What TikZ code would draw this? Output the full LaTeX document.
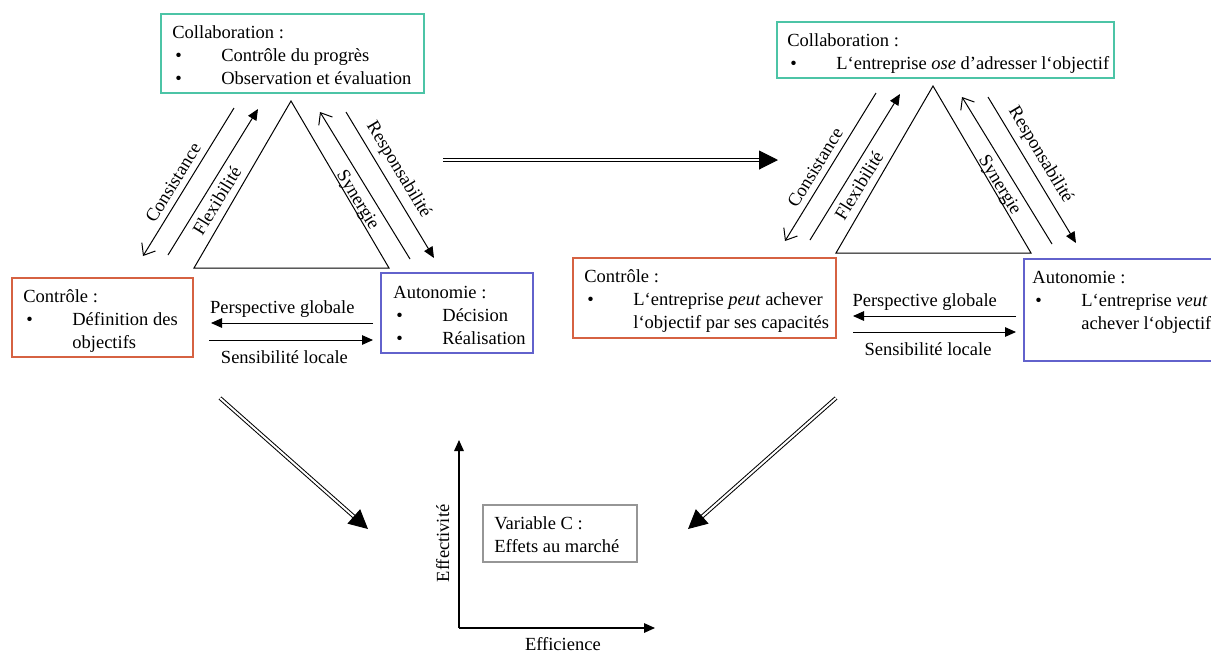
\documentclass[tikz,border=0pt]{standalone}
\usepackage{fontspec}
\setmainfont{Liberation Serif}
\usepackage{tikz}
\usetikzlibrary{arrows.meta, calc, fit}

\definecolor{turquoise}{RGB}{76,196,166}
\definecolor{rouille}{RGB}{214,98,66}
\definecolor{indigo}{RGB}{98,98,204}
\definecolor{grisclair}{RGB}{150,150,150}

\tikzset{
  texte/.style={font=\fontsize{9.25}{11.5}\selectfont, inner sep=0pt},
  legende/.style={font=\fontsize{9.25}{11.5}\selectfont, inner sep=2.5pt},
  etiquette/.style={legende, sloped, inner sep=3pt},
  trait/.style={line width=0.5pt},
  pleine/.style={trait, -{Triangle[length=5.5pt, width=4.8pt]}},
  ouverte/.style={trait, -{Straight Barb[length=5pt, width=8pt]}},
  grosse/.style={double, line width=0.5pt, double distance=1pt, -{Triangle[length=9.5pt, width=9.5pt]}},
  axe/.style={line width=0.6pt, -{Triangle[length=5.5pt, width=4.8pt]}},
}

% puce et retrait des listes dans les cadres
\newcommand{\puce}[1]{\makebox[24.5pt][l]{\hspace{1.5pt}\textbullet}#1}
\newcommand{\suite}[1]{\hspace*{24.5pt}#1}
% cadre : nom, couleur, coin haut gauche, coin bas droit, debut du texte, texte
\newcommand{\cadre}[9]{%
  \node[draw=#2, line width=0.7pt, inner sep=0pt, fit={(#3,#4) (#5,#6)}] (#1) {};
  \node[texte, anchor=base west] (#1-t) at (#7,#8)
    {\begin{tabular}[t]{@{}l@{}}#9\end{tabular}};%
}

\begin{document}
\begin{tikzpicture}[x=0.5pt, y=-0.5pt]
  \useasboundingbox (0,0) rectangle (1211,650);

  % triangles et fleches autour
  \foreach \cote/\dx/\dy in {g/0/0, d/642/-15} {
    \begin{scope}[shift={(\dx,\dy)}]
      \coordinate (som-\cote) at (291,101);
      \coordinate (bg-\cote) at (194,268);
      \coordinate (bd-\cote) at (389,268);
      \draw[trait] (som-\cote) -- (bg-\cote) -- (bd-\cote) -- cycle;
      \coordinate (c1-\cote) at (234,108);
      \coordinate (c2-\cote) at (143,256);
      \coordinate (f1-\cote) at (168,255);
      \coordinate (f2-\cote) at (258,109);
      \coordinate (s1-\cote) at (410,259);
      \coordinate (s2-\cote) at (320,112);
      \coordinate (r1-\cote) at (346,112);
      \coordinate (r2-\cote) at (434,258);
      \draw[ouverte] (c1-\cote) -- node[etiquette, pos=0.55, above] {Consistance} (c2-\cote);
      \draw[pleine] (f1-\cote) -- node[etiquette, pos=0.42, below] {Flexibilité} (f2-\cote);
      \draw[ouverte] (s1-\cote) -- node[etiquette, pos=0.45, below] {Synergie} (s2-\cote);
      \draw[pleine] (r1-\cote) -- node[etiquette, pos=0.45, above] {Responsabilité} (r2-\cote);
    \end{scope}
  }

  % cadres
  \cadre{collab-g}{turquoise}{161}{14}{424}{93}{172}{38}%
    {Collaboration :\\ \puce{Contrôle du progrès}\\ \puce{Observation et évaluation}}
  \cadre{ctrl-g}{rouille}{12}{278}{193}{357}{23}{302}%
    {Contrôle :\\ \puce{Définition des}\\ \suite{objectifs}}
  \cadre{auto-g}{indigo}{381}{273}{533}{353}{393}{298}%
    {Autonomie :\\ \puce{Décision}\\ \puce{Réalisation}}
  \cadre{collab-d}{turquoise}{777}{22}{1114}{78}{787}{46}%
    {Collaboration :\\ \puce{L‘entreprise \textit{ose} d’adresser l‘objectif}}
  \cadre{ctrl-d}{rouille}{573}{258}{836}{338}{584}{282}%
    {Contrôle :\\ \puce{L‘entreprise \textit{peut} achever}\\ \suite{l‘objectif par ses capacités}}
  \cadre{auto-d}{indigo}{1024}{259}{1240}{361}{1032}{283}%
    {Autonomie :\\ \puce{L‘entreprise \textit{veut}}\\ \suite{achever l‘objectif}}
  \cadre{varC}{grisclair}{483}{505}{637}{562}{494}{529}%
    {Variable C :\\ Effets au marché}

  % perspective / sensibilite
  \coordinate (pg1-g) at (373,323); \coordinate (pg2-g) at (211,323);
  \coordinate (sl1-g) at (209,340); \coordinate (sl2-g) at (373,340);
  \coordinate (pg1-d) at (1016,316); \coordinate (pg2-d) at (853,316);
  \coordinate (sl1-d) at (853,332); \coordinate (sl2-d) at (1016,332);
  \foreach \cote in {g,d} {
    \draw[pleine] (pg1-\cote) -- node[legende, pos=0.56, above] {Perspective globale} (pg2-\cote);
    \draw[pleine] (sl1-\cote) -- node[legende, pos=0.46, below, inner sep=5pt] {Sensibilité locale} (sl2-\cote);
  }

  % grosses fleches
  \coordinate (h1) at (443,160); \coordinate (h2) at (778,160);
  \coordinate (dg1) at (220,398); \coordinate (dg2) at (368,529);
  \coordinate (dd1) at (836,398); \coordinate (dd2) at (688,529);
  \draw[grosse] (h1) -- (h2);
  \draw[grosse] (dg1) -- (dg2);
  \draw[grosse] (dd1) -- (dd2);

  % repere efficience / effectivite
  \coordinate (orig) at (459,628);
  \coordinate (ybout) at (459,440);
  \coordinate (xbout) at (655,628);
  \draw[axe] (orig) -- node[legende, sloped, above, pos=0.45, inner sep=4.5pt] {Effectivité} (ybout);
  \draw[axe] (orig) -- node[legende, below, pos=0.53, inner sep=4.5pt] {Efficience} (xbout);
\end{tikzpicture}
\end{document}
